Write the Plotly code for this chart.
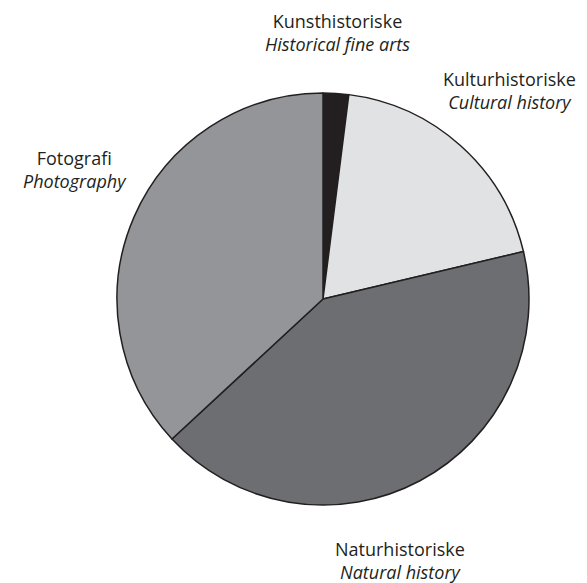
import plotly.graph_objects as go

categories = ["Kunsthistoriske", "Kulturhistoriske", "Naturhistoriske", "Fotografi"]
english = ["Historical fine arts", "Cultural history", "Natural history", "Photography"]
values = [2.0, 19.3, 41.8, 36.9]
colors = ["#231f20", "#e1e2e4", "#6d6e71", "#939598"]

W, H = 587, 583
OFF = 8  # page body margin

def px(x):
    return (x - OFF) / W

def py(y):
    return 1 - (y - OFF) / H

fig = go.Figure(go.Pie(
    labels=categories,
    values=values,
    sort=False,
    direction="clockwise",
    rotation=0,
    textinfo="none",
    marker=dict(colors=colors, line=dict(color="#231f20", width=1.5)),
    domain=dict(x=[px(117), px(529)], y=[py(505), py(93)]),
    showlegend=False,
))

# label positions (pixel centre x, centre y of the two-line block)
label_pos = {
    "Kunsthistoriske": (337, 33),
    "Kulturhistoriske": (509, 90),
    "Fotografi": (75, 169),
    "Naturhistoriske": (400, 560),
}
font = dict(family="Open Sans, Noto Sans, sans-serif", size=18, color="#231f20")
annotations = []
for cat, eng in zip(categories, english):
    x, y = label_pos[cat]
    annotations.append(dict(x=px(x), y=py(y), xref="paper", yref="paper",
                            text=cat + "<br><i>" + eng + "</i>", showarrow=False,
                            font=font, align="center",
                            xanchor="center", yanchor="middle"))

fig.update_layout(
    width=W, height=H,
    margin=dict(l=0, r=0, t=0, b=0),
    paper_bgcolor="white",
    plot_bgcolor="white",
    annotations=annotations,
)
fig.write_html("out.html")
